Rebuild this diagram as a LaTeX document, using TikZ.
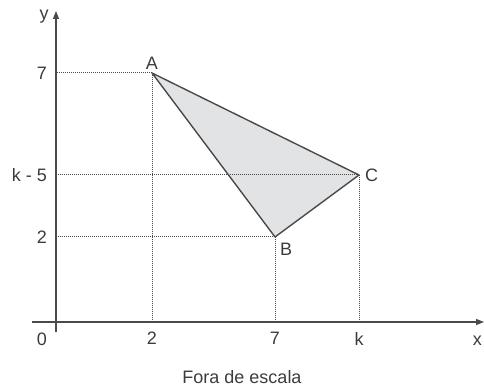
\documentclass[tikz,border=0pt]{standalone}
\usepackage{fontspec}
\setmainfont{Liberation Sans}
\usetikzlibrary{arrows.meta,positioning}
\definecolor{axisgray}{HTML}{4A4A4A}
\definecolor{textgray}{HTML}{3C3C3C}
\definecolor{areagray}{HTML}{E2E3E5}

\begin{document}
\begin{tikzpicture}[
    x=1pt, y=-1pt,
    axis/.style={draw=axisgray, line width=1.3pt, -{Triangle[length=8pt,width=6pt]}},
    guide/.style={draw=axisgray, densely dotted, line width=1pt},
    side/.style={draw=axisgray, line width=1.4pt, line join=round},
    lbl/.style={font=\fontsize{18}{21}\selectfont, text=textgray, inner sep=1pt}
]
    \useasboundingbox (0,0) rectangle (484,387);

    % Pontos
    \coordinate (O) at (56,322);
    \coordinate (A) at (152,73);
    \coordinate (B) at (275,237);
    \coordinate (C) at (359,175);
    \coordinate (xstart) at (32,322);
    \coordinate (xend) at (484,322);
    \coordinate (ystart) at (56,332);
    \coordinate (yend) at (56,11);

    % Triangulo
    \fill[areagray] (A) -- (B) -- (C) -- cycle;

    % Linhas de chamada
    \draw[guide] (A) -- (A -| O);
    \draw[guide] (A) -- (A |- O);
    \draw[guide] (B) -- (B -| O);
    \draw[guide] (B) -- (B |- O);
    \draw[guide] (C) -- (C -| O);
    \draw[guide] (C) -- (C |- O);

    \draw[side] (A) -- (B) -- (C) -- cycle;

    % Eixos
    \draw[axis] (xstart) -- (xend);
    \draw[axis] (ystart) -- (yend);

    % Rotulos dos eixos
    \node[lbl] (ylabel) at (44,17) {y};
    \node[lbl, anchor=east] (xlabel) at (483,341) {x};
    \node[lbl] (zero) at (42,339) {0};
    \node[lbl, anchor=east] (ya) at ([xshift=-8pt]A -| O) {7};
    \node[lbl, anchor=east] (yc) at ([xshift=-8pt]C -| O) {k - 5};
    \node[lbl, anchor=east] (yb) at ([xshift=-8pt]B -| O) {2};
    \node[lbl, anchor=north] (xa) at ([yshift=-9pt]A |- O) {2};
    \node[lbl, anchor=north] (xb) at ([yshift=-9pt]B |- O) {7};
    \node[lbl, anchor=north] (xc) at ([yshift=-9pt]C |- O) {k};

    % Vertices
    \node[lbl, anchor=south] (la) at ([yshift=2pt]A) {A};
    \node[lbl, anchor=west] (lc) at ([xshift=5pt]C) {C};
    \node[lbl, anchor=north west] (lb) at ([xshift=4pt,yshift=-5pt]B) {B};

    \node[lbl] (nota) at (242,377) {Fora de escala};
\end{tikzpicture}
\end{document}
